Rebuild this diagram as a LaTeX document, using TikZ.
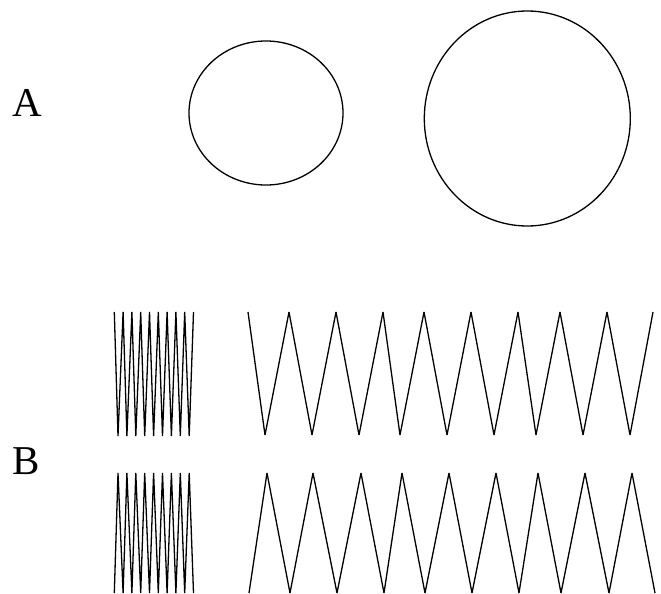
\documentclass[tikz,border=0pt]{standalone}
\usepackage{fontspec}
\setmainfont{Liberation Serif}
\begin{document}
\begin{tikzpicture}[x=1pt,y=-1pt,line width=1.3pt,
  lbl/.style={inner sep=0pt,anchor=base west,font=\fontsize{41}{41}\selectfont},
  zig/.style={line join=bevel}]
\useasboundingbox (0,0) rectangle (661,594);
\node[lbl] (la) at (11.5,116.5) {A};
\node[lbl] (lb) at (11.5,474.5) {B};
% ellipses
\draw (266,113) ellipse [x radius=77, y radius=72];
\draw (527.3,118.5) ellipse [x radius=103, y radius=107.5];
% small zigzags
\draw[zig] (114.3,312) \foreach \k in {0,...,8} { -- ({118+8.9*\k},436) -- ({123.1+8.8*\k},312) };
\draw[zig] (114.3,593) \foreach \k in {0,...,8} { -- ({118+8.9*\k},473) -- ({123.1+8.8*\k},593) };
% big zigzags
\draw[zig] (248,312) -- (265,435) -- (289,312) -- (312,435) -- (336,312) -- (359,435) -- (383,312) -- (400,435) -- (424,312) -- (447,435) -- (471,312) -- (494,435) -- (518,312) -- (536,435) -- (560,312) -- (583,435) -- (607,312) -- (630,435) -- (653,312);
\draw[zig] (249,593) -- (267,473) -- (290,593) -- (313,473) -- (337,593) -- (361,473) -- (384,593) -- (402,473) -- (425,593) -- (449,473) -- (472,593) -- (496,473) -- (519,593) -- (538,473) -- (561,593) -- (585,473) -- (609,593) -- (632,473) -- (655,593);
\end{tikzpicture}
\end{document}
